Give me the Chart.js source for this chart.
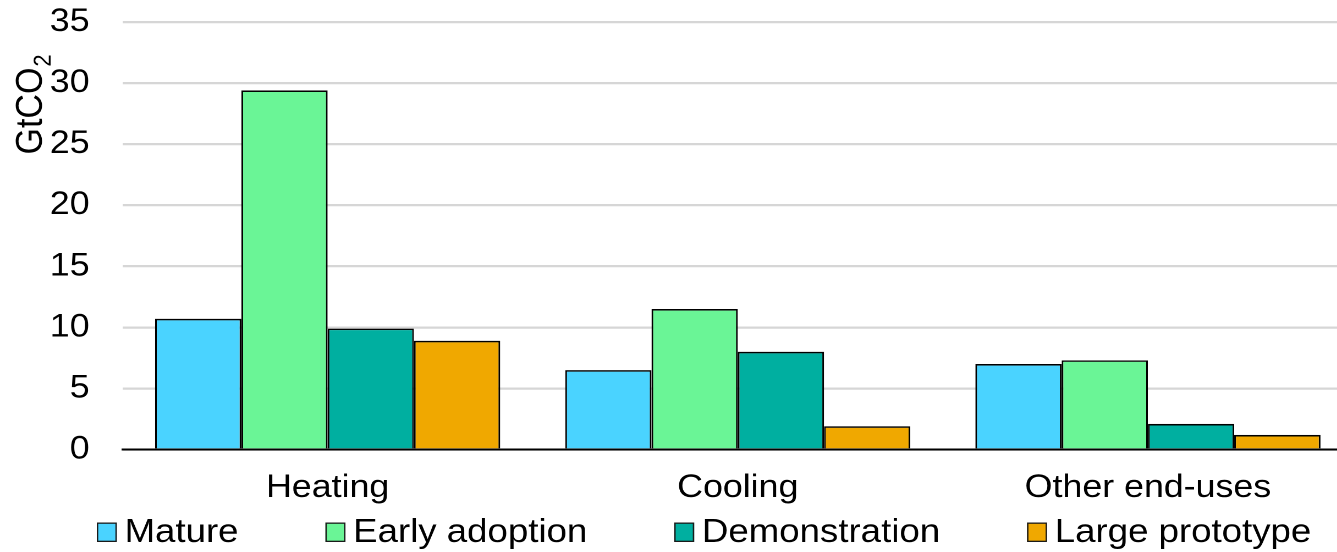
<!DOCTYPE html>
<html>
<head>
<meta charset="utf-8">
<script src="https://cdn.jsdelivr.net/npm/chart.js@4"></script>
<style>
  html, body { margin: 0; padding: 0; background: #fff; overflow: hidden; }
  #wrap { position: relative; width: 1230px; height: 552px; transform: scaleX(1.1); transform-origin: 0 0; }
</style>
</head>
<body>
<div id="wrap"><canvas id="c" width="1230" height="552"></canvas></div>
<script>
// Emissions by end-use and technology readiness (GtCO2)
const categories = ['Heating', 'Cooling', 'Other end-uses'];
const matureValues = [10.7, 6.5, 7.0];
const earlyAdoptionValues = [29.4, 11.5, 7.3];
const demonstrationValues = [9.9, 8.0, 2.1];
const largePrototypeValues = [8.9, 1.9, 1.2];
const seriesNames = ['Mature', 'Early adoption', 'Demonstration', 'Large prototype'];
const seriesColors = ['#4AD3FF', '#6AF596', '#00AFA0', '#F0A800'];
const yTicks = [0, 5, 10, 15, 20, 25, 30, 35];

const FONT = '"Liberation Sans", Arial, sans-serif';
Chart.defaults.font.family = FONT;
Chart.defaults.font.size = 32.5;
Chart.defaults.color = '#000';

// Rotated y-axis title with a subscript "2"
const yTitlePlugin = {
  id: 'yTitle',
  afterDraw(chart) {
    const ctx = chart.ctx;
    ctx.save();
    ctx.translate(38, 154.5);
    ctx.rotate(-Math.PI / 2);
    ctx.fillStyle = '#000';
    ctx.textAlign = 'left';
    ctx.textBaseline = 'alphabetic';
    ctx.font = '34px ' + FONT;
    ctx.fillText('GtCO', 0, 0);
    const w = ctx.measureText('GtCO').width;
    ctx.font = '22px ' + FONT;
    ctx.fillText('2', w + 1, 8);
    ctx.restore();
  }
};

// Legend row under the category labels: small outlined box, then the series name
const legendPlugin = {
  id: 'rowLegend',
  afterDraw(chart) {
    const ctx = chart.ctx;
    const boxW = 18.2, boxH = 19.5, boxTop = 522.5, baseline = 542, gap = 7, spacing = 79;
    let x = 88;
    ctx.save();
    ctx.font = '33.3px ' + FONT;
    ctx.textAlign = 'left';
    ctx.textBaseline = 'alphabetic';
    chart.data.datasets.forEach(ds => {
      ctx.fillStyle = ds.backgroundColor;
      ctx.fillRect(x, boxTop, boxW, boxH);
      ctx.strokeStyle = '#1a1a1a';
      ctx.lineWidth = 1.3;
      ctx.strokeRect(x + 0.65, boxTop + 0.65, boxW - 1.3, boxH - 1.3);
      ctx.fillStyle = '#000';
      ctx.fillText(ds.label, x + boxW + gap, baseline);
      x += boxW + gap + ctx.measureText(ds.label).width + spacing;
    });
    ctx.restore();
  }
};

const seriesValues = [matureValues, earlyAdoptionValues, demonstrationValues, largePrototypeValues];

new Chart(document.getElementById('c'), {
  type: 'bar',
  data: {
    labels: categories,
    datasets: seriesNames.map((name, i) => ({
      label: name,
      data: seriesValues[i],
      backgroundColor: seriesColors[i],
      borderColor: '#000',
      borderWidth: 1.6,
      barPercentage: 1.0,
      categoryPercentage: 0.8415
    }))
  },
  options: {
    responsive: false,
    devicePixelRatio: 2,
    animation: false,
    events: [],
    layout: { padding: { top: 22, bottom: 46.5, left: 0, right: 0 } },
    plugins: {
      legend: { display: false },
      tooltip: { enabled: false },
      title: { display: false }
    },
    scales: {
      x: {
        grid: { display: false, drawTicks: false },
        border: { display: true, color: '#000', width: 2 },
        ticks: { padding: 19, color: '#000', maxRotation: 0, autoSkip: false },
        afterFit(scale) { scale.height = 56; }
      },
      y: {
        min: 0,
        max: 35,
        afterBuildTicks(scale) { scale.ticks = yTicks.map(v => ({ value: v })); },
        ticks: { padding: 30, color: '#000' },
        grid: { color: '#d6d6d6', lineWidth: 2.2, drawTicks: false },
        border: { display: false },
        afterFit(scale) {
          scale.width = 111.4;
          scale.paddingTop = 0;
          scale.paddingBottom = 0;
        }
      }
    }
  },
  plugins: [yTitlePlugin, legendPlugin]
});
</script>
</body>
</html>
